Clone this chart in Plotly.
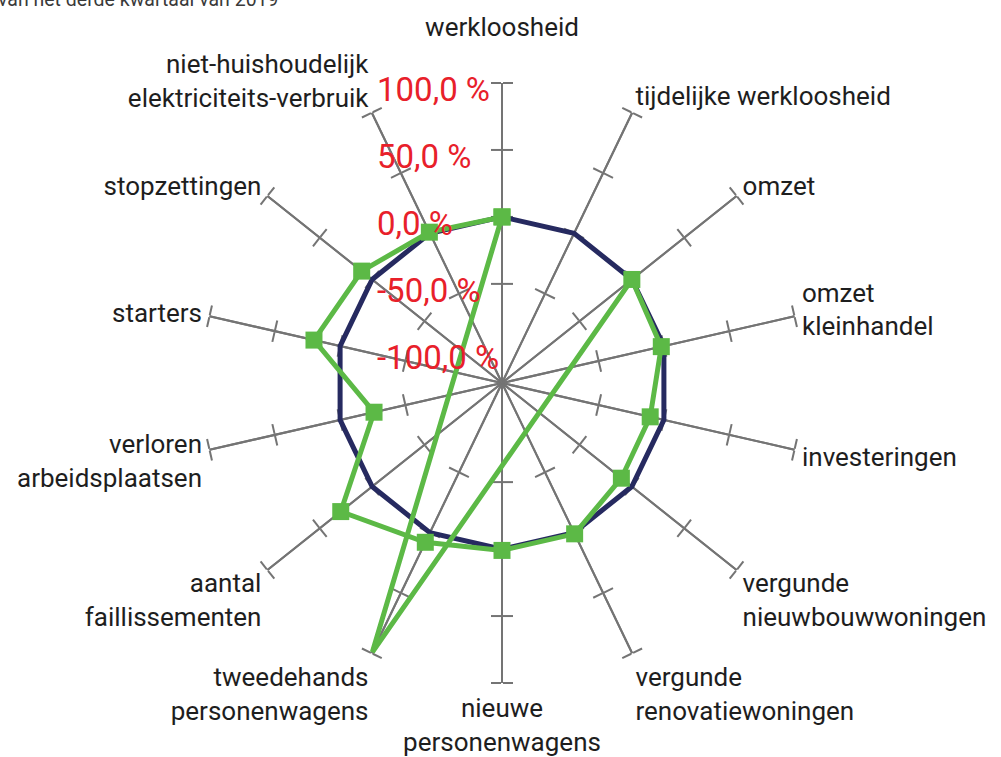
import plotly.graph_objects as go

# ---------------- data ----------------
category_labels = [
    "werkloosheid",
    "tijdelijke werkloosheid",
    "omzet",
    "omzet\nkleinhandel",
    "investeringen",
    "vergunde\nnieuwbouwwoningen",
    "vergunde\nrenovatiewoningen",
    "nieuwe\npersonenwagens",
    "tweedehands\npersonenwagens",
    "aantal\nfaillissementen",
    "verloren\narbeidsplaatsen",
    "starters",
    "stopzettingen",
    "niet-huishoudelijk\nelektriciteits-verbruik",
]
# reference level (derde kwartaal 2019 = 0 %)
reference_values = [0, 0, 0, 0, 0, 0, 0, 0, 0, 0, 0, 0, 0, 0]
# procentuele verandering
current_values = [0, -347, 0, -2, -10.5, -10, 1, 1, 8, 30, -26, 20, 10, 1]

radial_tickvals = [-100, -50, 0, 50, 100]
radial_ticktext = ["-100,0 %", "-50,0 %", "0,0 %", "50,0 %", "100,0 %"]
subtitle = "van het derde kwartaal van 2019"

# ---------------- layout constants ----------------
W, H = 1001, 757
CX, CY, RPX = 502, 383, 300
RMIN, RMAX = -124, 100
GRAY = "#747474"
NAVY = "#262a60"
GREEN = "#5cb946"
RED = "#e8202a"
FONT = "Roboto"

dom_x = [(CX - RPX) / W, (CX + RPX) / W]
dom_y = [(H - CY - RPX) / H, (H - CY + RPX) / H]

n = len(category_labels)
step = 360 / n
thetas = [i * step for i in range(n)]
# the top label sits one line higher in the original
ticktext = [c.replace("\n", "<br>") + ("<br> " if i == 0 else "")
            for i, c in enumerate(category_labels)]
spoke_tickvals = [v for v in radial_tickvals if v > -100]

fig = go.Figure()
layout = {}

# spokes with crossing tick marks: one radial axis per category, two sides
pid_num = 0
for i in range(n):
    for tickside in ("outside", "inside"):
        pid_num += 1
        pid = "polar" if pid_num == 1 else f"polar{pid_num}"
        layout[pid] = dict(
            domain=dict(x=dom_x, y=dom_y),
            bgcolor="rgba(0,0,0,0)",
            radialaxis=dict(
                range=[RMIN, RMAX], angle=90 - thetas[i],
                showline=True, linecolor=GRAY, linewidth=2,
                ticks=tickside, ticklen=10, tickwidth=2, tickcolor=GRAY,
                tickvals=spoke_tickvals, showticklabels=False, showgrid=False,
            ),
            angularaxis=dict(visible=False),
        )
        fig.add_trace(go.Scatterpolar(r=[None], theta=[0], subplot=pid, mode="lines",
                                      hoverinfo="skip", showlegend=False))

main = f"polar{pid_num + 1}"


def to_polar(values):
    """Excel-style radar: values below the axis minimum are drawn through the
    centre on the opposite side of the chart."""
    rs, ts = [], []
    for v, t in zip(values, thetas):
        if v < RMIN:
            rs.append(2 * RMIN - v)
            ts.append(t + 180)
        else:
            rs.append(v)
            ts.append(t)
    return rs + rs[:1], ts + ts[:1]


r_ref, t_ref = to_polar(reference_values)
fig.add_trace(go.Scatterpolar(
    r=r_ref, theta=t_ref, subplot=main, mode="lines",
    line=dict(color=NAVY, width=5), hoverinfo="skip", showlegend=False,
    name="derde kwartaal 2019"))

r_cur, t_cur = to_polar(current_values)
msizes = [0 if v < RMIN else 17 for v in current_values]
msizes = msizes + msizes[:1]
fig.add_trace(go.Scatterpolar(
    r=r_cur, theta=t_cur, subplot=main, mode="lines+markers",
    line=dict(color=GREEN, width=5),
    marker=dict(symbol="square", size=msizes, color=GREEN, opacity=1,
                line=dict(width=0)),
    showlegend=False, name="verandering"))

layout[main] = dict(
    domain=dict(x=dom_x, y=dom_y),
    bgcolor="rgba(0,0,0,0)",
    radialaxis=dict(range=[RMIN, RMAX], visible=False),
    angularaxis=dict(
        type="linear", rotation=90, direction="clockwise",
        tickmode="array", tickvals=thetas, ticktext=ticktext,
        showgrid=False, showline=False, ticks="outside", ticklen=2,
        tickcolor="rgba(0,0,0,0)",
        tickfont=dict(family=FONT, size=26, color="#1e1e1e"),
    ),
)

annotations = []
for v, txt in zip(radial_tickvals, radial_ticktext):
    ypx = CY - (v - RMIN) / (RMAX - RMIN) * RPX + 7
    annotations.append(dict(
        x=375 / W, y=1 - ypx / H, xref="paper", yref="paper",
        text=txt, showarrow=False, xanchor="left", yanchor="middle",
        font=dict(family=FONT, size=33, color=RED)))
annotations.append(dict(
    x=-4 / W, y=1 + 1 / H, xref="paper", yref="paper", text=subtitle,
    showarrow=False, xanchor="left", yanchor="middle",
    font=dict(family=FONT, size=19.5, color="#3a3a3a")))

fig.update_layout(
    **layout,
    width=W, height=H, autosize=False,
    margin=dict(l=0, r=0, t=0, b=0, pad=0),
    paper_bgcolor="white", plot_bgcolor="white",
    showlegend=False, annotations=annotations,
)

fig.write_html("out.html", config={"displayModeBar": False},
               post_script="document.body.style.margin='0';")
